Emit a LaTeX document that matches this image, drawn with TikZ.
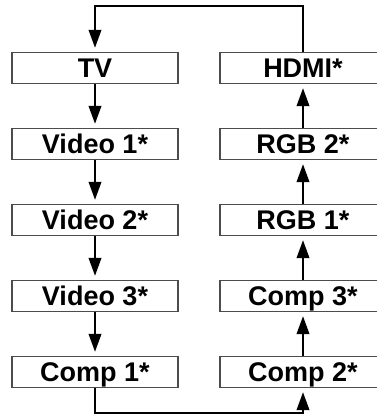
\documentclass[tikz,border=0pt]{standalone}
\usepackage{fontspec}
\setmainfont{Liberation Sans}
\usetikzlibrary{arrows.meta}
\tikzset{
  srcbox/.style={draw=black!70,line width=1.3pt,minimum width=166pt,minimum height=31pt,
    inner sep=0pt,text height=19pt,text depth=0pt,font=\fontsize{27}{27}\selectfont\bfseries},
  flow/.style={line width=2.2pt,-{Triangle[width=12.5pt,length=18pt]},shorten >=4pt}
}
\begin{document}
\begin{tikzpicture}[x=1pt,y=1pt]
\useasboundingbox (0,0) rectangle (376,417);
% left column
\node[srcbox] (tv) at (95,349) {TV};
\node[srcbox] (vid1) at (95,273) {Video 1*};
\node[srcbox] (vid2) at (95,197) {Video 2*};
\node[srcbox] (vid3) at (95,121) {Video 3*};
\node[srcbox] (comp1) at (95,45) {Comp 1*};
% right column
\node[srcbox] (hdmi) at (303,349) {HDMI*};
\node[srcbox] (rgb2) at (303,273) {RGB 2*};
\node[srcbox] (rgb1) at (303,197) {RGB 1*};
\node[srcbox] (comp3) at (303,121) {Comp 3*};
\node[srcbox] (comp2) at (303,45) {Comp 2*};
\foreach \a/\b in {tv/vid1,vid1/vid2,vid2/vid3,vid3/comp1,comp2/comp3,comp3/rgb1,rgb1/rgb2,rgb2/hdmi}
  \draw[flow] (\a) -- (\b);
% wrap-around links
\coordinate (top) at (0,411);
\coordinate (bot) at (0,4);
\draw[flow,line join=miter] (comp1.south) -- (comp1.south |- bot) -- (comp2.south |- bot) -- (comp2.south);
\draw[flow,line join=miter] (hdmi.north) -- (hdmi.north |- top) -- (tv.north |- top) -- (tv.north);
\end{tikzpicture}
\end{document}
